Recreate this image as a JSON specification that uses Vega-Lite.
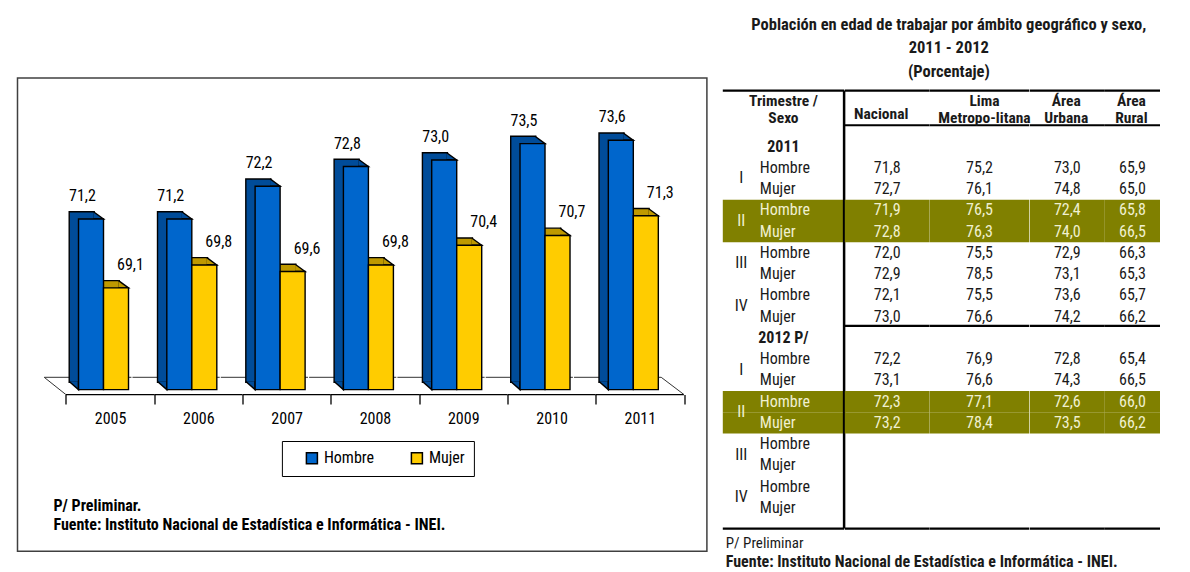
{
  "$schema": "https://vega.github.io/schema/vega-lite/v6.json",
  "background": "white",
  "padding": {"left": 16.5, "top": 17, "right": 0, "bottom": 0},
  "config": {
    "view": {"stroke": null},
    "font": "Liberation Sans Narrow, Roboto Condensed, Noto Sans Condensed, DejaVu Sans Condensed, Liberation Sans, sans-serif",
    "locale": {"number": {"decimal": ",", "thousands": ".", "grouping": [3], "currency": ["", ""]}}
  },
  "datasets": {
    "barras": [
      {"year": "2005", "sexo": "Hombre", "value": 71.2}, {"year": "2005", "sexo": "Mujer", "value": 69.1},
      {"year": "2006", "sexo": "Hombre", "value": 71.2}, {"year": "2006", "sexo": "Mujer", "value": 69.8},
      {"year": "2007", "sexo": "Hombre", "value": 72.2}, {"year": "2007", "sexo": "Mujer", "value": 69.6},
      {"year": "2008", "sexo": "Hombre", "value": 72.8}, {"year": "2008", "sexo": "Mujer", "value": 69.8},
      {"year": "2009", "sexo": "Hombre", "value": 73.0}, {"year": "2009", "sexo": "Mujer", "value": 70.4},
      {"year": "2010", "sexo": "Hombre", "value": 73.5}, {"year": "2010", "sexo": "Mujer", "value": 70.7},
      {"year": "2011", "sexo": "Hombre", "value": 73.6}, {"year": "2011", "sexo": "Mujer", "value": 71.3}
    ],
    "tabla": [
      {"year": "2011", "trim": "I", "sexo": "Hombre", "row": 1, "Nacional": 71.8, "Lima": 75.2, "Urbana": 73.0, "Rural": 65.9},
      {"year": "2011", "trim": "I", "sexo": "Mujer", "row": 2, "Nacional": 72.7, "Lima": 76.1, "Urbana": 74.8, "Rural": 65.0},
      {"year": "2011", "trim": "II", "sexo": "Hombre", "row": 3, "Nacional": 71.9, "Lima": 76.5, "Urbana": 72.4, "Rural": 65.8},
      {"year": "2011", "trim": "II", "sexo": "Mujer", "row": 4, "Nacional": 72.8, "Lima": 76.3, "Urbana": 74.0, "Rural": 66.5},
      {"year": "2011", "trim": "III", "sexo": "Hombre", "row": 5, "Nacional": 72.0, "Lima": 75.5, "Urbana": 72.9, "Rural": 66.3},
      {"year": "2011", "trim": "III", "sexo": "Mujer", "row": 6, "Nacional": 72.9, "Lima": 78.5, "Urbana": 73.1, "Rural": 65.3},
      {"year": "2011", "trim": "IV", "sexo": "Hombre", "row": 7, "Nacional": 72.1, "Lima": 75.5, "Urbana": 73.6, "Rural": 65.7},
      {"year": "2011", "trim": "IV", "sexo": "Mujer", "row": 8, "Nacional": 73.0, "Lima": 76.6, "Urbana": 74.2, "Rural": 66.2},
      {"year": "2012", "trim": "I", "sexo": "Hombre", "row": 10, "Nacional": 72.2, "Lima": 76.9, "Urbana": 72.8, "Rural": 65.4},
      {"year": "2012", "trim": "I", "sexo": "Mujer", "row": 11, "Nacional": 73.1, "Lima": 76.6, "Urbana": 74.3, "Rural": 66.5},
      {"year": "2012", "trim": "II", "sexo": "Hombre", "row": 12, "Nacional": 72.3, "Lima": 77.1, "Urbana": 72.6, "Rural": 66.0},
      {"year": "2012", "trim": "II", "sexo": "Mujer", "row": 13, "Nacional": 73.2, "Lima": 78.4, "Urbana": 73.5, "Rural": 66.2},
      {"year": "2012", "trim": "III", "sexo": "Hombre", "row": 14, "Nacional": null, "Lima": null, "Urbana": null, "Rural": null},
      {"year": "2012", "trim": "III", "sexo": "Mujer", "row": 15, "Nacional": null, "Lima": null, "Urbana": null, "Rural": null},
      {"year": "2012", "trim": "IV", "sexo": "Hombre", "row": 16, "Nacional": null, "Lima": null, "Urbana": null, "Rural": null},
      {"year": "2012", "trim": "IV", "sexo": "Mujer", "row": 17, "Nacional": null, "Lima": null, "Urbana": null, "Rural": null}
    ],
    "grupos": [
      {"label": "2011", "row": 0},
      {"label": "2012 P/", "row": 9}
    ]
  },
  "spacing": 15.3,
  "bounds": "flush",
  "hconcat": [
    {
      "width": 689.4,
      "height": 473.3,
      "view": {"stroke": "#404040", "strokeWidth": 1.5},
      "data": {"name": "barras"},
      "title": {
        "text": ["P/ Preliminar.", "Fuente: Instituto Nacional de Estadística e Informática - INEI."],
        "orient": "bottom", "anchor": "start", "frame": "group", "offset": -53, "dx": 36,
        "fontSize": 16, "fontWeight": "bold", "lineHeight": 18.7, "color": "black"
      },
      "encoding": {
        "x": {
          "field": "year", "type": "nominal",
          "scale": {"type": "band", "domain": ["2005", "2006", "2007", "2008", "2009", "2010", "2011"], "paddingInner": 0, "paddingOuter": 0.4037, "align": 0.679},
          "axis": {"orient": "bottom", "offset": -156.7, "domain": false, "ticks": true, "tickBand": "extent", "tickSize": 9.5, "tickColor": "black", "tickWidth": 1.3, "labelFontSize": 16, "labelColor": "black", "labelPadding": 6.5, "labelAngle": 0, "title": null, "grid": false}
        },
        "y": {"field": "value", "type": "quantitative", "scale": {"domain": [61.07, 75.5], "zero": false, "nice": false}, "axis": null}
      },
      "layer": [
        {
          "transform": [{"filter": "datum.sexo == 'Hombre'"}],
          "mark": {"type": "rule", "xOffset": -44.15, "x2Offset": 44.15, "color": "black", "strokeWidth": 1.4},
          "encoding": {"x2": {"field": "year"}, "y": {"datum": 65.848}}
        },
        {
          "transform": [{"filter": "datum.sexo == 'Hombre'"}],
          "mark": {"type": "rule", "xOffset": -65.85, "x2Offset": 21.35, "color": "#333333", "strokeWidth": 1},
          "encoding": {"x2": {"field": "year"}, "y": {"datum": 66.375}}
        },
        {
          "transform": [{"filter": "datum.sexo == 'Hombre' && datum.year == '2005'"}],
          "mark": {"type": "rule", "xOffset": -65.85, "x2Offset": -44.15, "color": "#333333", "strokeWidth": 1},
          "encoding": {"x2": {"field": "year"}, "y": {"datum": 66.375}, "y2": {"datum": 65.848}}
        },
        {
          "transform": [{"filter": "datum.sexo == 'Hombre' && datum.year == '2011'"}],
          "mark": {"type": "rule", "xOffset": 21.35, "x2Offset": 44.15, "color": "#333333", "strokeWidth": 1},
          "encoding": {"x2": {"field": "year"}, "y": {"datum": 66.375}, "y2": {"datum": 65.848}}
        },
        {
          "transform": [{"filter": "datum.sexo == 'Hombre'"}],
          "mark": {"type": "bar", "width": 25, "xOffset": -28.35, "yOffset": -7.3, "y2Offset": -7.3, "fill": "#004c99", "stroke": "black", "strokeWidth": 1.4},
          "encoding": {"y2": {"datum": 66}}
        },
        {
          "transform": [{"filter": "datum.sexo == 'Mujer'"}],
          "mark": {"type": "bar", "width": 25, "xOffset": -3.35, "yOffset": -7.3, "y2Offset": -7.3, "fill": "#bf9900", "stroke": "black", "strokeWidth": 1.4},
          "encoding": {"y2": {"datum": 66}}
        },
        {
          "transform": [{"filter": "datum.sexo == 'Hombre'"}],
          "mark": {"type": "point", "shape": "M-1.15,-0.785 L1,0.785 L-1.15,0.785", "size": 86.5, "filled": true, "fill": "#004c99", "stroke": "black", "strokeWidth": 1.4, "opacity": 1, "xOffset": -11.2, "yOffset": -3.65},
          "encoding": {}
        },
        {
          "transform": [{"filter": "datum.sexo == 'Hombre'"}],
          "mark": {"type": "point", "shape": "M1,-0.95 L1,0.785 L-1,-0.95", "size": 86.5, "filled": true, "fill": "#004c99", "stroke": "black", "strokeWidth": 1.4, "opacity": 1, "xOffset": -36.2, "yOffset": -3.65},
          "encoding": {"y": {"datum": 66}}
        },
        {
          "transform": [{"filter": "datum.sexo == 'Mujer'"}],
          "mark": {"type": "point", "shape": "M-1.15,-0.785 L1,0.785 L-1.15,0.785", "size": 86.5, "filled": true, "fill": "#bf9900", "stroke": "black", "strokeWidth": 1.4, "opacity": 1, "xOffset": 13.8, "yOffset": -3.65},
          "encoding": {}
        },
        {
          "transform": [{"filter": "datum.sexo == 'Hombre'"}],
          "mark": {"type": "bar", "width": 25, "xOffset": -19.05, "stroke": "black", "strokeWidth": 1.4, "opacity": 1},
          "encoding": {
            "y2": {"datum": 66},
            "color": {"field": "sexo", "type": "nominal", "scale": {"domain": ["Hombre", "Mujer"], "range": ["#0066cc", "#ffcc00"]},
              "legend": {"orient": "none", "legendX": 264.4, "legendY": 363, "direction": "horizontal", "title": null, "padding": 9, "strokeColor": "black", "fillColor": "white", "symbolType": "square", "symbolSize": 121, "symbolStrokeColor": "black", "symbolStrokeWidth": 1.5, "symbolOffset": 13, "labelFontSize": 16, "labelOffset": 4, "labelColor": "black", "columnPadding": 21}}
          }
        },
        {
          "transform": [{"filter": "datum.sexo == 'Mujer'"}],
          "mark": {"type": "bar", "width": 25, "xOffset": 5.95, "stroke": "black", "strokeWidth": 1.4, "opacity": 1},
          "encoding": {
            "y2": {"datum": 66},
            "color": {"field": "sexo", "type": "nominal", "scale": {"domain": ["Hombre", "Mujer"], "range": ["#0066cc", "#ffcc00"]},
              "legend": {"orient": "none", "legendX": 264.4, "legendY": 363, "direction": "horizontal", "title": null, "padding": 9, "strokeColor": "black", "fillColor": "white", "symbolType": "square", "symbolSize": 121, "symbolStrokeColor": "black", "symbolStrokeWidth": 1.5, "symbolOffset": 13, "labelFontSize": 16, "labelOffset": 4, "labelColor": "black", "columnPadding": 21}}
          }
        },
        {
          "transform": [{"filter": "datum.sexo == 'Hombre'"}],
          "mark": {"type": "text", "dx": -27.6, "dy": -23, "fontSize": 16, "baseline": "middle", "color": "black"},
          "encoding": {"text": {"field": "value", "type": "quantitative", "format": ".1f"}}
        },
        {
          "transform": [{"filter": "datum.sexo == 'Mujer'"}],
          "mark": {"type": "text", "dx": 20.4, "dy": -23, "fontSize": 16, "baseline": "middle", "color": "black"},
          "encoding": {"text": {"field": "value", "type": "quantitative", "format": ".1f"}}
        }
      ]
    },
    {
      "bounds": "flush",
      "title": {
        "text": ["Población en edad de trabajar por ámbito geográfico y sexo,", "2011 - 2012", "(Porcentaje)"],
        "anchor": "middle", "align": "center", "frame": "group", "dx": 226, "offset": -2.3, "fontSize": 16.5, "fontWeight": "bold", "lineHeight": 23.4, "color": "#1a1a1a"
      },
      "vconcat": [
        {
          "spacing": 0,
          "bounds": "flush",
          "title": {
            "text": "P/ Preliminar",
            "subtitle": "Fuente: Instituto Nacional de Estadística e Informática - INEI.",
            "orient": "bottom", "anchor": "start", "frame": "group", "dx": 3, "offset": 6,
            "fontSize": 15, "fontWeight": "normal", "color": "#1a1a1a",
            "subtitleFontSize": 16, "subtitleFontWeight": "bold", "subtitleColor": "#1a1a1a", "subtitlePadding": 3
          },
          "hconcat": [
            {
              "width": 121.3,
              "height": 450.6,
              "data": {"name": "tabla"},
              "layer": [
                {
                  "transform": [{"filter": "datum.trim == 'II'"}],
                  "mark": {"type": "rect", "height": 21.25, "fill": "#808000"},
                  "encoding": {"y": {"field": "row", "type": "quantitative", "scale": {"domain": [-3.224, 17.98], "reverse": true, "zero": false, "nice": false}, "axis": null}}
                },
                {
                  "data": {"values": [{}]},
                  "mark": {"type": "rule", "color": "black", "strokeWidth": 2.2},
                  "encoding": {"y": {"datum": -2.63, "type": "quantitative"}}
                },
                {
                  "data": {"values": [{}]},
                  "mark": {"type": "rule", "color": "black", "strokeWidth": 2.2},
                  "encoding": {"y": {"datum": 17.98, "type": "quantitative"}}
                },
                {
                  "data": {"values": [{}]},
                  "mark": {"type": "rule", "color": "black", "strokeWidth": 2.5},
                  "encoding": {"x": {"value": "width"}, "y": {"datum": -2.63, "type": "quantitative"}, "y2": {"datum": 17.98}}
                },
                {
                  "data": {"values": [{}]},
                  "mark": {"type": "text", "fontSize": 15.5, "fontWeight": "bold", "lineHeight": 16.7, "baseline": "middle", "color": "#1a1a1a"},
                  "encoding": {"y": {"datum": -2.13, "type": "quantitative"}, "text": {"value": ["Trimestre /", "Sexo"]}}
                },
                {
                  "data": {"name": "grupos"},
                  "mark": {"type": "text", "fontSize": 16, "fontWeight": "bold", "baseline": "middle", "color": "#1a1a1a"},
                  "encoding": {"y": {"field": "row", "type": "quantitative"}, "text": {"field": "label"}}
                },
                {
                  "transform": [{"aggregate": [{"op": "mean", "field": "row", "as": "rowm"}], "groupby": ["year", "trim"]}],
                  "mark": {"type": "text", "fontSize": 16, "baseline": "middle"},
                  "encoding": {
                    "x": {"datum": "Trimestre", "type": "nominal", "scale": {"type": "band", "domain": ["Trimestre", "Sexo"], "paddingInner": 0, "paddingOuter": 0.639, "align": 0}, "axis": null},
                    "y": {"field": "rowm", "type": "quantitative"},
                    "text": {"field": "trim"},
                    "color": {"condition": {"test": "datum.trim == 'II'", "value": "#f0f0d0"}, "value": "#1a1a1a"}
                  }
                },
                {
                  "mark": {"type": "text", "fontSize": 16, "baseline": "middle", "align": "left"},
                  "encoding": {
                    "x": {"datum": "Sexo", "type": "nominal", "bandPosition": 0},
                    "y": {"field": "row", "type": "quantitative"},
                    "text": {"field": "sexo"},
                    "color": {"condition": {"test": "datum.trim == 'II'", "value": "#f0f0d0"}, "value": "#1a1a1a"}
                  }
                }
              ]
            },
            {
              "width": 84.8,
              "height": 450.6,
              "data": {"name": "tabla"},
              "layer": [
                {
                  "transform": [{"filter": "datum.trim == 'II'"}],
                  "mark": {"type": "rect", "height": 21.25, "fill": "#808000"},
                  "encoding": {"y": {"field": "row", "type": "quantitative", "scale": {"domain": [-3.224, 17.98], "reverse": true, "zero": false, "nice": false}, "axis": null}}
                },
                {"data": {"values": [{}]}, "mark": {"type": "rule", "color": "black", "strokeWidth": 2.2}, "encoding": {"y": {"datum": -2.63, "type": "quantitative"}}},
                {"data": {"values": [{}]}, "mark": {"type": "rule", "color": "black", "strokeWidth": 2.2}, "encoding": {"y": {"datum": -1.0, "type": "quantitative"}}},
                {"data": {"values": [{}]}, "mark": {"type": "rule", "color": "black", "strokeWidth": 2.4}, "encoding": {"y": {"datum": 8.44, "type": "quantitative"}}},
                {"data": {"values": [{}]}, "mark": {"type": "rule", "color": "black", "strokeWidth": 2.2}, "encoding": {"y": {"datum": 17.98, "type": "quantitative"}}},
                {
                  "data": {"values": [{}]},
                  "mark": {"type": "text", "fontSize": 15.5, "fontWeight": "bold", "baseline": "middle", "dx": -6, "color": "#1a1a1a"},
                  "encoding": {"y": {"datum": -1.53, "type": "quantitative"}, "text": {"value": "Nacional"}}
                },
                {
                  "transform": [{"filter": "isValid(datum.Nacional)"}],
                  "mark": {"type": "text", "fontSize": 16, "baseline": "middle"},
                  "encoding": {
                    "y": {"field": "row", "type": "quantitative"},
                    "text": {"field": "Nacional", "type": "quantitative", "format": ".1f"},
                    "color": {"condition": {"test": "datum.trim == 'II'", "value": "#f0f0d0"}, "value": "#1a1a1a"}
                  }
                }
              ]
            },
            {
              "width": 99.4,
              "height": 450.6,
              "data": {"name": "tabla"},
              "layer": [
                {
                  "transform": [{"filter": "datum.trim == 'II'"}],
                  "mark": {"type": "rect", "height": 21.25, "fill": "#808000"},
                  "encoding": {"y": {"field": "row", "type": "quantitative", "scale": {"domain": [-3.224, 17.98], "reverse": true, "zero": false, "nice": false}, "axis": null}}
                },
                {"data": {"values": [{}]}, "mark": {"type": "rule", "color": "black", "strokeWidth": 2.2}, "encoding": {"y": {"datum": -2.63, "type": "quantitative"}}},
                {"data": {"values": [{}]}, "mark": {"type": "rule", "color": "black", "strokeWidth": 2.2}, "encoding": {"y": {"datum": -1.0, "type": "quantitative"}}},
                {"data": {"values": [{}]}, "mark": {"type": "rule", "color": "black", "strokeWidth": 2.4}, "encoding": {"y": {"datum": 8.44, "type": "quantitative"}}},
                {"data": {"values": [{}]}, "mark": {"type": "rule", "color": "black", "strokeWidth": 2.2}, "encoding": {"y": {"datum": 17.98, "type": "quantitative"}}},
                {
                  "data": {"values": [{}]},
                  "mark": {"type": "text", "fontSize": 15.5, "fontWeight": "bold", "lineHeight": 16.7, "baseline": "middle", "dx": 5, "color": "#1a1a1a"},
                  "encoding": {"y": {"datum": -2.13, "type": "quantitative"}, "text": {"value": ["Lima", "Metropo-litana"]}}
                },
                {
                  "transform": [{"filter": "isValid(datum.Lima)"}],
                  "mark": {"type": "text", "fontSize": 16, "baseline": "middle"},
                  "encoding": {
                    "y": {"field": "row", "type": "quantitative"},
                    "text": {"field": "Lima", "type": "quantitative", "format": ".1f"},
                    "color": {"condition": {"test": "datum.trim == 'II'", "value": "#f0f0d0"}, "value": "#1a1a1a"}
                  }
                }
              ]
            },
            {
              "width": 75,
              "height": 450.6,
              "data": {"name": "tabla"},
              "layer": [
                {
                  "transform": [{"filter": "datum.trim == 'II'"}],
                  "mark": {"type": "rect", "height": 21.25, "fill": "#808000"},
                  "encoding": {"y": {"field": "row", "type": "quantitative", "scale": {"domain": [-3.224, 17.98], "reverse": true, "zero": false, "nice": false}, "axis": null}}
                },
                {"data": {"values": [{}]}, "mark": {"type": "rule", "color": "black", "strokeWidth": 2.2}, "encoding": {"y": {"datum": -2.63, "type": "quantitative"}}},
                {"data": {"values": [{}]}, "mark": {"type": "rule", "color": "black", "strokeWidth": 2.2}, "encoding": {"y": {"datum": -1.0, "type": "quantitative"}}},
                {"data": {"values": [{}]}, "mark": {"type": "rule", "color": "black", "strokeWidth": 2.4}, "encoding": {"y": {"datum": 8.44, "type": "quantitative"}}},
                {"data": {"values": [{}]}, "mark": {"type": "rule", "color": "black", "strokeWidth": 2.2}, "encoding": {"y": {"datum": 17.98, "type": "quantitative"}}},
                {
                  "data": {"values": [{}]},
                  "mark": {"type": "text", "fontSize": 15.5, "fontWeight": "bold", "lineHeight": 16.7, "baseline": "middle", "dx": -1, "color": "#1a1a1a"},
                  "encoding": {"y": {"datum": -2.13, "type": "quantitative"}, "text": {"value": ["Área", "Urbana"]}}
                },
                {
                  "transform": [{"filter": "isValid(datum.Urbana)"}],
                  "mark": {"type": "text", "fontSize": 16, "baseline": "middle"},
                  "encoding": {
                    "y": {"field": "row", "type": "quantitative"},
                    "text": {"field": "Urbana", "type": "quantitative", "format": ".1f"},
                    "color": {"condition": {"test": "datum.trim == 'II'", "value": "#f0f0d0"}, "value": "#1a1a1a"}
                  }
                }
              ]
            },
            {
              "width": 55.2,
              "height": 450.6,
              "data": {"name": "tabla"},
              "layer": [
                {
                  "transform": [{"filter": "datum.trim == 'II'"}],
                  "mark": {"type": "rect", "height": 21.25, "fill": "#808000"},
                  "encoding": {"y": {"field": "row", "type": "quantitative", "scale": {"domain": [-3.224, 17.98], "reverse": true, "zero": false, "nice": false}, "axis": null}}
                },
                {"data": {"values": [{}]}, "mark": {"type": "rule", "color": "black", "strokeWidth": 2.2}, "encoding": {"y": {"datum": -2.63, "type": "quantitative"}}},
                {"data": {"values": [{}]}, "mark": {"type": "rule", "color": "black", "strokeWidth": 2.2}, "encoding": {"y": {"datum": -1.0, "type": "quantitative"}}},
                {"data": {"values": [{}]}, "mark": {"type": "rule", "color": "black", "strokeWidth": 2.4}, "encoding": {"y": {"datum": 8.44, "type": "quantitative"}}},
                {"data": {"values": [{}]}, "mark": {"type": "rule", "color": "black", "strokeWidth": 2.2}, "encoding": {"y": {"datum": 17.98, "type": "quantitative"}}},
                {
                  "data": {"values": [{}]},
                  "mark": {"type": "text", "fontSize": 15.5, "fontWeight": "bold", "lineHeight": 16.7, "baseline": "middle", "dx": -1, "color": "#1a1a1a"},
                  "encoding": {"y": {"datum": -2.13, "type": "quantitative"}, "text": {"value": ["Área", "Rural"]}}
                },
                {
                  "transform": [{"filter": "isValid(datum.Rural)"}],
                  "mark": {"type": "text", "fontSize": 16, "baseline": "middle"},
                  "encoding": {
                    "y": {"field": "row", "type": "quantitative"},
                    "text": {"field": "Rural", "type": "quantitative", "format": ".1f"},
                    "color": {"condition": {"test": "datum.trim == 'II'", "value": "#f0f0d0"}, "value": "#1a1a1a"}
                  }
                }
              ]
            }
          ]
        }
      ]
    }
  ]
}
